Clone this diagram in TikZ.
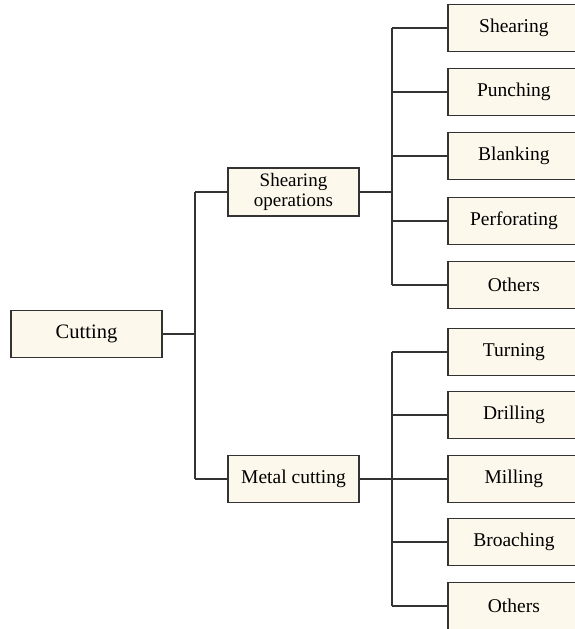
\documentclass[tikz,border=0pt]{standalone}
\usepackage{fontspec}
\setmainfont{Liberation Serif}
\usepackage{tikz}
\usetikzlibrary{positioning}
\usepackage{xcolor}
\definecolor{boxfill}{HTML}{FCF8EC}
\definecolor{linecol}{HTML}{333333}
\tikzset{%
	box/.style={
		draw=linecol,
		fill=boxfill,
		line width=1.8pt,
		minimum height=47pt,
		inner sep=2pt,
		align=center,
		font=\fontsize{19.5}{21}\selectfont
	},
	leaf/.style={
		box,
		anchor=west,
		minimum width=132pt,
		text width=124pt
	},
	link/.style={
		draw=linecol,
		line width=1.8pt
	},
}
\begin{document}
\begin{tikzpicture}[x=1pt,y=-1pt]
			\useasboundingbox (0,0) rectangle (575,629);
			\clip (0,0) rectangle (575,629);
			\node[box, minimum width=151pt, font=\fontsize{20.5}{22}\selectfont] (cut) at (86.5,334) {Cutting};
			\node[box, minimum width=131pt, minimum height=48pt, font=\fontsize{19}{20.5}\selectfont] (shop) at (293.5,192) {Shearing\\operations};
			\node[box, minimum width=131pt] (mcut) at (293.5,479) {Metal cutting};
			
			\node[leaf] (s1) at (447,28) {Shearing};
			\node[leaf] (s2) at (447,92) {Punching};
			\node[leaf] (s3) at (447,156) {Blanking};
			\node[leaf] (s4) at (447,221) {Perforating};
			\node[leaf] (s5) at (447,285) {Others};
			
			\node[leaf] (m1) at (447,352) {Turning};
			\node[leaf] (m2) at (447,415) {Drilling};
			\node[leaf] (m3) at (447,479) {Milling};
			\node[leaf] (m4) at (447,542) {Broaching};
			\node[leaf] (m5) at (447,606) {Others};
			
			\coordinate (t0) at (195,334);
			\coordinate (t1) at (195,192);
			\coordinate (t2) at (195,479);
			\coordinate (u0) at (392,192);
			\coordinate (u1) at (392,28);
			\coordinate (u5) at (392,285);
			\coordinate (v0) at (392,479);
			\coordinate (v1) at (392,352);
			\coordinate (v5) at (392,606);
			
			\draw[link] (cut) -- (t0);
			\draw[link] (t1) -- (t2);
			\draw[link] (t1) -- (shop);
			\draw[link] (t2) -- (mcut);
			
			\draw[link] (shop) -- (u0);
			\draw[link] (u1) -- (u5);
			\draw[link] (u1) -- (s1);
			\draw[link] (s2.west) -| (u0);
			\draw[link] (s3.west) -| (u0);
			\draw[link] (s4.west) -| (u0);
			\draw[link] (u5) -- (s5);
			
			\draw[link] (mcut) -- (v0);
			\draw[link] (v1) -- (v5);
			\draw[link] (v1) -- (m1);
			\draw[link] (m2.west) -| (v0);
			\draw[link] (v0) -- (m3);
			\draw[link] (m4.west) -| (v0);
			\draw[link] (v5) -- (m5);
			
			
		\end{tikzpicture}
\end{document}
